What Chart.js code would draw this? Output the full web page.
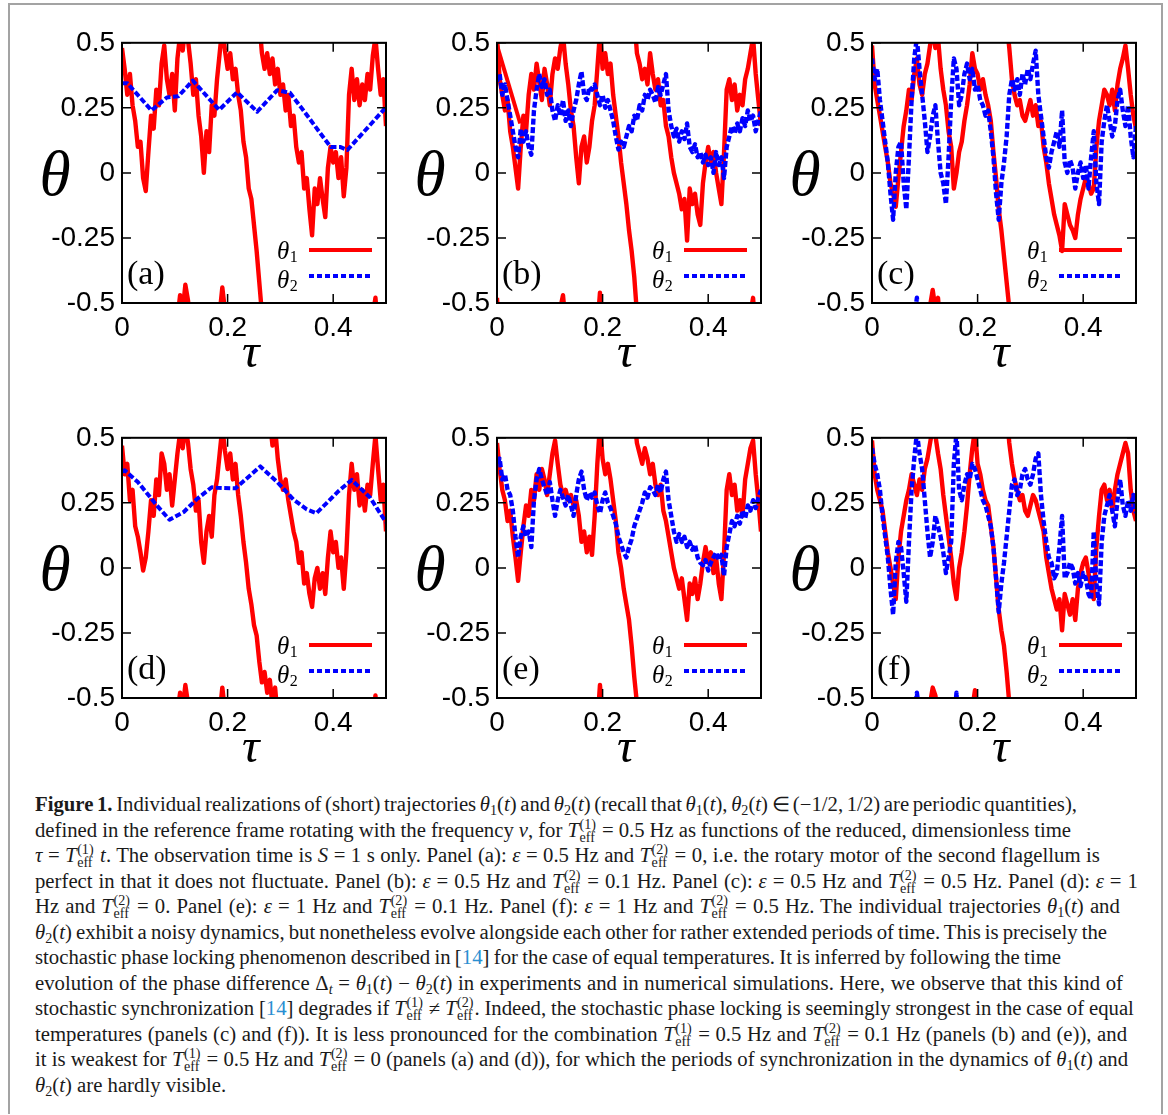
<!DOCTYPE html>
<html lang="en">
<head>
<meta charset="UTF-8">
<title>Figure 1</title>
<script src="https://cdn.jsdelivr.net/npm/chart.js"></script>
<style>
  body{margin:0;background:#fff;}
  #page{position:relative;width:1168px;height:1115px;overflow:hidden;background:#fff;}
  #frame{position:absolute;left:8px;top:3px;width:1151px;height:1109px;border:2px solid #a3a3a3;border-bottom:none;}
  canvas{position:absolute;}
  #cap{position:absolute;left:35px;top:792px;font-family:"Liberation Serif",serif;font-size:20px;color:#1a1a1a;transform-origin:0 0;}
  #cap > div{height:25.5px;line-height:25.5px;white-space:nowrap;width:max-content;}
  #cap sub{font-size:0.68em;vertical-align:-0.28em;line-height:0;}
  .ss{display:inline-block;vertical-align:-5px;font-size:0.68em;line-height:0.95em;margin:0 1px 0 0.5px;text-align:left;}
  .ss > span{display:block;}
  .ref{color:#2a8fd1;}
</style>
</head>
<body>
<div id="page">
  <div id="frame"></div>
  <div id="cap">
    <div data-r="1077"><b>Figure 1.</b> Individual realizations of (short) trajectories <i>θ</i><sub>1</sub>(<i>t</i>) and <i>θ</i><sub>2</sub>(<i>t</i>) (recall that <i>θ</i><sub>1</sub>(<i>t</i>), <i>θ</i><sub>2</sub>(<i>t</i>) ∈ (−1/2, 1/2) are periodic quantities),</div>
    <div data-r="1071">defined in the reference frame rotating with the frequency <i>ν</i>, for <i>T</i><span class="ss"><span>(1)</span><span>eff</span></span> = 0.5 Hz as functions of the reduced, dimensionless time</div>
    <div data-r="1100"><i>τ</i> = <i>T</i><span class="ss"><span>(1)</span><span>eff</span></span> <i>t</i>. The observation time is <i>S</i> = 1 s only. Panel (a): <i>ε</i> = 0.5 Hz and <i>T</i><span class="ss"><span>(2)</span><span>eff</span></span> = 0, i.e. the rotary motor of the second flagellum is</div>
    <div data-r="1138">perfect in that it does not fluctuate. Panel (b): <i>ε</i> = 0.5 Hz and <i>T</i><span class="ss"><span>(2)</span><span>eff</span></span> = 0.1 Hz. Panel (c): <i>ε</i> = 0.5 Hz and <i>T</i><span class="ss"><span>(2)</span><span>eff</span></span> = 0.5 Hz. Panel (d): <i>ε</i> = 1</div>
    <div data-r="1120">Hz and <i>T</i><span class="ss"><span>(2)</span><span>eff</span></span> = 0. Panel (e): <i>ε</i> = 1 Hz and <i>T</i><span class="ss"><span>(2)</span><span>eff</span></span> = 0.1 Hz. Panel (f): <i>ε</i> = 1 Hz and <i>T</i><span class="ss"><span>(2)</span><span>eff</span></span> = 0.5 Hz. The individual trajectories <i>θ</i><sub>1</sub>(<i>t</i>) and</div>
    <div data-r="1107"><i>θ</i><sub>2</sub>(<i>t</i>) exhibit a noisy dynamics, but nonetheless evolve alongside each other for rather extended periods of time. This is precisely the</div>
    <div data-r="1061">stochastic phase locking phenomenon described in [<span class="ref">14</span>] for the case of equal temperatures. It is inferred by following the time</div>
    <div data-r="1123">evolution of the phase difference Δ<sub><i>t</i></sub> = <i>θ</i><sub>1</sub>(<i>t</i>) − <i>θ</i><sub>2</sub>(<i>t</i>) in experiments and in numerical simulations. Here, we observe that this kind of</div>
    <div data-r="1134">stochastic synchronization [<span class="ref">14</span>] degrades if <i>T</i><span class="ss"><span>(1)</span><span>eff</span></span> ≠ <i>T</i><span class="ss"><span>(2)</span><span>eff</span></span>. Indeed, the stochastic phase locking is seemingly strongest in the case of equal</div>
    <div data-r="1127">temperatures (panels (c) and (f)). It is less pronounced for the combination <i>T</i><span class="ss"><span>(1)</span><span>eff</span></span> = 0.5 Hz and <i>T</i><span class="ss"><span>(2)</span><span>eff</span></span> = 0.1 Hz (panels (b) and (e)), and</div>
    <div data-r="1128">it is weakest for <i>T</i><span class="ss"><span>(1)</span><span>eff</span></span> = 0.5 Hz and <i>T</i><span class="ss"><span>(2)</span><span>eff</span></span> = 0 (panels (a) and (d)), for which the periods of synchronization in the dynamics of <i>θ</i><sub>1</sub>(<i>t</i>) and</div>
    <div><i>θ</i><sub>2</sub>(<i>t</i>) are hardly visible.</div>
  </div>
</div>

<script>
// sampling times (reduced time tau)
const tau = [0,0.005,0.01,0.015,0.02,0.025,0.03,0.035,0.04,0.045,
  0.05,0.055,0.06,0.065,0.07,0.075,0.08,0.085,0.09,0.095,
  0.1,0.105,0.11,0.115,0.12,0.125,0.13,0.135,0.14,0.145,
  0.15,0.155,0.16,0.165,0.17,0.175,0.18,0.185,0.19,0.195,
  0.2,0.205,0.21,0.215,0.22,0.225,0.23,0.235,0.24,0.245,
  0.25,0.255,0.26,0.265,0.27,0.275,0.28,0.285,0.29,0.295,
  0.3,0.305,0.31,0.315,0.32,0.325,0.33,0.335,0.34,0.345,
  0.35,0.355,0.36,0.365,0.37,0.375,0.38,0.385,0.39,0.395,
  0.4,0.405,0.41,0.415,0.42,0.425,0.43,0.435,0.44,0.445,
  0.45,0.455,0.46,0.465,0.47,0.475,0.48,0.485,0.49,0.495,
  0.5];

const xTicks = [0, 0.2, 0.4];
const xTickLabels = ['0', '0.2', '0.4'];
const yTicks = [-0.5, -0.25, 0, 0.25, 0.5];
const yTickLabels = ['-0.5', '-0.25', '0', '0.25', '0.5'];

// theta_1 (red), one value per tau sample; values just past +-0.5 wrap round
const theta1_a = [0.48,0.40,0.30,0.38,0.26,0.20,0.10,0.12,-0.02,-0.07,
  0.08,0.22,0.17,0.32,0.26,0.42,0.49,0.36,0.30,0.38,
  0.24,0.44,0.53,0.47,0.57,0.51,0.42,0.30,0.36,0.22,
  0.14,0.00,0.16,0.08,0.26,0.22,0.36,0.46,0.56,0.47,
  0.40,0.46,0.36,0.40,0.30,0.24,0.12,0.06,-0.06,-0.10,
  -0.20,-0.30,-0.42,0.46,0.40,0.46,0.38,0.44,0.34,0.40,
  0.30,0.34,0.24,0.30,0.18,0.22,0.10,0.04,0.08,-0.06,
  -0.02,-0.14,-0.24,-0.06,-0.12,-0.02,-0.10,-0.17,0.02,0.10,
  0.04,0.08,-0.02,0.06,-0.09,0.02,0.30,0.40,0.28,0.36,
  0.26,0.34,0.28,0.38,0.32,0.45,0.52,0.40,0.30,0.36,
  0.18];
const theta1_b = [0.52,0.36,0.30,0.24,0.28,0.16,0.10,0.02,-0.06,0.10,
  0.22,0.16,0.30,0.38,0.32,0.42,0.35,0.28,0.40,0.34,
  0.26,0.38,0.44,0.40,0.48,0.53,0.42,0.34,0.24,0.18,
  0.06,-0.04,0.10,0.14,0.04,0.10,0.20,0.26,0.40,0.54,
  0.40,0.46,0.38,0.42,0.30,0.22,0.14,0.04,-0.04,-0.12,
  -0.22,-0.30,-0.40,0.46,0.42,0.36,0.40,0.34,0.46,0.38,
  0.32,0.36,0.26,0.28,0.18,0.14,0.06,0.00,-0.04,-0.08,
  -0.14,-0.10,-0.26,-0.06,-0.12,-0.08,-0.16,-0.20,-0.04,0.04,
  0.10,0.04,0.08,0.00,-0.06,-0.12,0.08,0.32,0.36,0.28,
  0.34,0.24,0.30,0.26,0.36,0.40,0.46,0.52,0.38,0.28,
  0.18];
const theta1_b_jumpT = [0, 0.044];
const theta1_b_jump = [0.49, 0.19];
const theta1_c = [0.49,0.34,0.28,0.22,0.16,0.10,0.04,-0.04,-0.08,-0.13,
  -0.02,0.08,0.18,0.24,0.32,0.28,0.38,0.44,0.34,0.30,
  0.38,0.42,0.49,0.55,0.48,0.52,0.40,0.32,0.26,0.16,
  0.10,-0.06,0.00,0.08,0.12,0.20,0.26,0.34,0.46,0.40,
  0.38,0.32,0.36,0.30,0.26,0.20,0.08,-0.02,-0.14,-0.22,
  -0.32,-0.42,-0.52,0.36,0.30,0.26,0.28,0.22,0.20,0.24,
  0.28,0.22,0.26,0.18,0.20,0.10,0.04,-0.04,-0.10,-0.16,
  -0.20,-0.24,-0.30,-0.12,-0.16,-0.20,-0.22,-0.25,-0.16,-0.10,
  -0.06,-0.02,-0.04,-0.08,-0.06,0.10,0.20,0.26,0.32,0.30,
  0.26,0.32,0.24,0.34,0.40,0.44,0.49,0.40,0.30,0.22,
  0.17];
const theta1_d = [0.47,0.36,0.40,0.26,0.30,0.16,0.12,0.06,-0.01,0.04,
  0.14,0.26,0.20,0.34,0.28,0.44,0.40,0.30,0.36,0.24,
  0.34,0.44,0.52,0.46,0.55,0.48,0.38,0.32,0.22,0.26,
  0.10,0.02,0.14,0.20,0.12,0.28,0.34,0.44,0.54,0.45,
  0.38,0.44,0.34,0.40,0.28,0.20,0.10,0.02,-0.08,-0.14,
  -0.22,-0.26,-0.36,-0.44,-0.40,-0.48,-0.43,-0.53,-0.46,0.42,
  0.34,0.30,0.34,0.26,0.20,0.14,0.10,0.02,0.06,-0.06,
  -0.02,-0.10,-0.15,-0.04,0.00,-0.08,-0.02,-0.10,0.04,0.14,
  0.06,0.10,0.00,0.04,-0.08,0.06,0.28,0.40,0.30,0.36,
  0.24,0.30,0.22,0.32,0.28,0.40,0.51,0.38,0.26,0.32,
  0.14];
const theta1_e = [0.48,0.38,0.30,0.26,0.18,0.22,0.12,0.04,-0.05,0.06,
  0.16,0.24,0.20,0.30,0.26,0.36,0.30,0.38,0.34,0.28,
  0.36,0.44,0.49,0.40,0.32,0.28,0.30,0.26,0.28,0.24,
  0.26,0.20,0.10,0.14,0.06,0.12,0.05,0.20,0.40,0.55,
  0.42,0.36,0.40,0.34,0.26,0.18,0.06,0.00,-0.08,-0.14,
  -0.20,-0.30,-0.42,-0.52,0.44,0.40,0.46,0.42,0.36,0.40,
  0.32,0.28,0.32,0.22,0.18,0.12,0.06,0.00,-0.04,-0.08,
  -0.04,-0.12,-0.20,-0.06,-0.10,-0.04,-0.12,-0.06,0.02,0.08,
  0.02,0.06,-0.02,0.04,-0.06,-0.12,0.06,0.30,0.36,0.28,
  0.32,0.22,0.26,0.20,0.34,0.40,0.46,0.49,0.36,0.26,
  0.14];
const theta1_f = [0.49,0.36,0.30,0.26,0.22,0.14,0.06,0.00,-0.06,-0.12,
  0.04,0.14,0.20,0.26,0.30,0.36,0.32,0.28,0.34,0.30,
  0.38,0.42,0.48,0.54,0.51,0.44,0.38,0.28,0.20,0.12,
  0.04,-0.06,-0.12,0.00,0.06,0.14,0.24,0.36,0.46,0.53,
  0.40,0.36,0.30,0.26,0.24,0.16,0.08,-0.04,-0.16,-0.24,
  -0.30,-0.40,-0.52,0.40,0.34,0.30,0.26,0.28,0.22,0.20,
  0.24,0.28,0.26,0.22,0.18,0.14,0.04,-0.02,-0.08,-0.12,
  -0.16,-0.12,-0.24,-0.10,-0.14,-0.18,-0.12,-0.20,-0.08,-0.02,
  0.02,0.04,-0.02,-0.08,-0.12,0.08,0.20,0.30,0.32,0.26,
  0.30,0.22,0.30,0.36,0.40,0.44,0.48,0.44,0.30,0.22,
  0.18];

// theta_2 (blue). Panels (a) and (d): noiseless motor, read as corner points
const theta2_aT = [0,0.01,0.056,0.085,0.107,0.134,0.184,0.218,0.256,0.294,0.318,0.34,0.382,0.395,0.413,0.427,0.5];
const theta2_a  = [0.345,0.345,0.24,0.29,0.295,0.355,0.242,0.31,0.235,0.318,0.308,0.25,0.135,0.10,0.10,0.088,0.252];
const theta2_dT = [0,0.005,0.03,0.066,0.09,0.117,0.142,0.17,0.18,0.215,0.262,0.294,0.325,0.35,0.368,0.388,0.41,0.435,0.47,0.5];
const theta2_d  = [0.37,0.375,0.33,0.24,0.185,0.215,0.265,0.31,0.308,0.306,0.39,0.33,0.262,0.225,0.21,0.25,0.295,0.338,0.27,0.175];
const theta2_b = [0.35,0.38,0.30,0.34,0.28,0.22,0.16,0.10,0.06,0.17,
  0.12,0.16,0.10,0.07,0.24,0.32,0.38,0.33,0.36,0.30,
  0.32,0.24,0.20,0.26,0.22,0.28,0.20,0.24,0.18,0.24,
  0.28,0.34,0.39,0.30,0.28,0.33,0.32,0.34,0.30,0.26,
  0.30,0.25,0.28,0.24,0.20,0.14,0.09,0.12,0.10,0.14,
  0.18,0.16,0.22,0.20,0.26,0.24,0.30,0.28,0.32,0.30,
  0.27,0.33,0.30,0.34,0.38,0.24,0.18,0.14,0.17,0.12,
  0.16,0.13,0.19,0.10,0.08,0.11,0.06,0.08,0.04,0.07,
  0.03,0.06,0.00,0.08,0.03,0.06,-0.02,0.10,0.14,0.18,
  0.15,0.19,0.16,0.21,0.18,0.24,0.20,0.22,0.16,0.20,
  0.24];
const theta2_c = [0.44,0.36,0.40,0.28,0.20,0.12,0.04,-0.08,-0.18,0.00,
  0.10,0.12,-0.04,-0.14,0.06,0.28,0.44,0.52,0.40,0.30,
  0.20,0.08,0.14,0.22,0.26,0.12,0.00,-0.04,-0.12,0.06,
  0.28,0.44,0.40,0.26,0.30,0.38,0.42,0.36,0.40,0.32,
  0.34,0.28,0.26,0.22,0.24,0.16,0.06,-0.08,-0.18,-0.04,
  0.04,0.14,0.30,0.36,0.32,0.36,0.30,0.38,0.34,0.40,
  0.36,0.42,0.47,0.30,0.22,0.14,0.06,0.02,0.08,0.12,
  0.16,0.10,0.24,0.04,0.00,0.05,0.02,-0.06,0.00,0.04,
  -0.02,0.03,-0.06,0.06,0.16,-0.04,-0.12,0.12,0.20,0.26,
  0.20,0.14,0.18,0.28,0.32,0.24,0.18,0.26,0.14,0.06,
  0.18];
const theta2_e = [0.40,0.42,0.34,0.36,0.30,0.28,0.22,0.12,0.04,0.12,
  0.16,0.12,0.14,0.08,0.26,0.34,0.38,0.34,0.31,0.28,
  0.33,0.26,0.20,0.26,0.30,0.27,0.24,0.28,0.24,0.20,
  0.28,0.34,0.37,0.30,0.26,0.29,0.27,0.29,0.24,0.21,
  0.26,0.29,0.25,0.23,0.20,0.17,0.12,0.09,0.06,0.04,
  0.08,0.11,0.16,0.19,0.22,0.25,0.29,0.27,0.31,0.30,
  0.28,0.32,0.29,0.34,0.37,0.26,0.20,0.14,0.10,0.13,
  0.10,0.12,0.08,0.10,0.07,0.09,0.04,0.02,0.01,0.03,
  -0.01,0.02,0.04,0.06,0.03,0.05,-0.03,0.08,0.13,0.18,
  0.16,0.20,0.17,0.22,0.19,0.24,0.22,0.26,0.23,0.27,
  0.30];
const theta2_f = [0.46,0.40,0.36,0.30,0.20,0.12,0.04,-0.08,-0.18,0.02,
  0.10,0.08,-0.02,-0.13,0.10,0.30,0.42,0.52,0.44,0.38,
  0.26,0.14,0.04,0.10,0.20,0.16,0.12,0.06,-0.02,0.04,
  0.10,0.40,0.52,0.30,0.26,0.32,0.36,0.34,0.40,0.38,
  0.34,0.30,0.26,0.24,0.20,0.16,0.08,-0.04,-0.17,-0.06,
  0.02,0.12,0.22,0.32,0.34,0.28,0.30,0.36,0.38,0.34,
  0.32,0.36,0.42,0.44,0.28,0.18,0.10,0.04,0.02,-0.04,
  -0.02,0.08,0.20,-0.04,-0.02,0.02,0.00,-0.06,-0.02,-0.07,
  -0.02,-0.04,-0.10,-0.12,0.14,-0.06,-0.14,0.10,0.20,0.24,
  0.28,0.22,0.16,0.26,0.34,0.24,0.20,0.26,0.22,0.28,
  0.21];

// periodic quantity: fold into (-1/2,1/2) and break the line where it wraps
function toPoints(xs, ys) {
  const out = [];
  let px = null, pw = null;
  for (let i = 0; i < xs.length; i++) {
    const x = xs[i];
    const w = ((ys[i] + 0.5) % 1 + 1) % 1 - 0.5;
    if (pw !== null && Math.abs(w - pw) > 0.5) {
      const s = w > pw ? -1 : 1;
      out.push({x: x, y: w + s});
      out.push({x: x, y: null});
      out.push({x: px, y: pw - s});
    }
    out.push({x: x, y: w});
    px = x; pw = w;
  }
  return out;
}

const panels = [
  {label: '(a)', left: 42,  top: 19,  red: [tau, theta1_a], blue: [theta2_aT, theta2_a], smooth: true},
  {label: '(b)', left: 417, top: 19,  red: [tau, theta1_b], blue: [tau, theta2_b], extra: [theta1_b_jumpT, theta1_b_jump]},
  {label: '(c)', left: 792, top: 19,  red: [tau, theta1_c], blue: [tau, theta2_c]},
  {label: '(d)', left: 42,  top: 414, red: [tau, theta1_d], blue: [theta2_dT, theta2_d], smooth: true},
  {label: '(e)', left: 417, top: 414, red: [tau, theta1_e], blue: [tau, theta2_e]},
  {label: '(f)', left: 792, top: 414, red: [tau, theta1_f], blue: [tau, theta2_f]}
];

const RED = '#ff0000', BLUE = '#0000ff';

// italic glyph drawn with its ink box centred on (cx, cy) and a given ink height
function drawGlyph(ctx, ch, cx, cy, hTarget) {
  ctx.font = 'italic 100px "Liberation Serif"';
  let m = ctx.measureText(ch);
  const h = m.actualBoundingBoxAscent + m.actualBoundingBoxDescent;
  ctx.font = 'italic ' + (100 * hTarget / h).toFixed(1) + 'px "Liberation Serif"';
  m = ctx.measureText(ch);
  ctx.textAlign = 'left';
  ctx.textBaseline = 'alphabetic';
  const x0 = cx - (m.actualBoundingBoxRight - m.actualBoundingBoxLeft) / 2;
  const y0 = cy + (m.actualBoundingBoxAscent - m.actualBoundingBoxDescent) / 2;
  ctx.fillText(ch, x0, y0);
}

const decor = {
  id: 'decor',
  afterDatasetsDraw(chart, args, opts) {
    const {ctx, chartArea: a, scales: {x, y}} = chart;
    ctx.save();
    ctx.strokeStyle = '#000';
    ctx.lineWidth = 2;
    ctx.strokeRect(a.left, a.top, a.right - a.left, a.bottom - a.top);
    ctx.lineWidth = 1.5;
    ctx.beginPath();
    yTicks.forEach(v => {
      const py = y.getPixelForValue(v);
      ctx.moveTo(a.left, py); ctx.lineTo(a.left + 9, py);
      ctx.moveTo(a.right, py); ctx.lineTo(a.right - 9, py);
    });
    xTicks.forEach(v => {
      const px = x.getPixelForValue(v);
      ctx.moveTo(px, a.bottom); ctx.lineTo(px, a.bottom - 9);
      ctx.moveTo(px, a.top); ctx.lineTo(px, a.top + 9);
    });
    ctx.stroke();

    ctx.fillStyle = '#000';
    // axis titles
    drawGlyph(ctx, 'θ', a.left - 66, (a.top + a.bottom) / 2, 45);
    drawGlyph(ctx, 'τ', (a.left + a.right) / 2 - 2, a.bottom + 53, 23);

    ctx.textAlign = 'left';
    ctx.textBaseline = 'alphabetic';
    ctx.font = '34px "Liberation Serif"';
    ctx.fillText(opts.label, a.left + 5, a.bottom - 19);

    const entry = (sub, yText, yLine, color, dash) => {
      const x0 = a.right - 109;
      ctx.font = 'italic 25px "Liberation Serif"';
      ctx.fillStyle = '#000';
      ctx.fillText('θ', x0, a.bottom - yText);
      const w = ctx.measureText('θ').width;
      ctx.font = '16px "Liberation Serif"';
      ctx.fillText(sub, x0 + w + 0.5, a.bottom - yText + 3);
      ctx.strokeStyle = color;
      ctx.lineWidth = 3.8;
      ctx.setLineDash(dash);
      ctx.beginPath();
      ctx.moveTo(a.right - 77, a.bottom - yLine);
      ctx.lineTo(a.right - 14, a.bottom - yLine);
      ctx.stroke();
      ctx.setLineDash([]);
    };
    entry('1', 44, 53, RED, []);
    entry('2', 15, 27, BLUE, [5, 3]);
    ctx.restore();
  }
};

const page = document.getElementById('page');

panels.forEach(p => {
  const cv = document.createElement('canvas');
  cv.width = 370; cv.height = 360;
  cv.style.left = p.left + 'px';
  cv.style.top = p.top + 'px';
  cv.style.width = '370px';
  cv.style.height = '360px';
  page.appendChild(cv);

  const datasets = [
    {data: toPoints(p.blue[0], p.blue[1]), borderColor: BLUE, borderWidth: p.smooth ? 4 : 4.4, borderDash: [6, 2.5]},
    {data: toPoints(p.red[0], p.red[1]), borderColor: RED, borderWidth: 4.4}
  ];
  if (p.extra) datasets.push({data: toPoints(p.extra[0], p.extra[1]), borderColor: RED, borderWidth: 4});
  datasets.forEach(d => {
    d.pointRadius = 0; d.tension = 0; d.clip = 0; d.spanGaps = false; d.borderJoinStyle = 'round';
  });

  new Chart(cv, {
    type: 'line',
    data: {datasets: datasets},
    options: {
      responsive: false,
      animation: false,
      events: [],
      layout: {padding: {top: 20, right: 26, left: 0, bottom: 0}},
      plugins: {legend: {display: false}, tooltip: {enabled: false}, decor: {label: p.label}},
      scales: {
        x: {
          type: 'linear', min: 0, max: 0.5,
          afterFit: s => { s.height = 76; },
          afterBuildTicks: s => { s.ticks = xTicks.map(v => ({value: v})); },
          grid: {display: false, drawTicks: false}, border: {display: false},
          ticks: {
            color: '#000', padding: 8, maxRotation: 0, autoSkip: false,
            font: {family: '"Liberation Sans"', size: 28},
            callback: v => xTickLabels[xTicks.indexOf(v)]
          }
        },
        y: {
          type: 'linear', min: -0.5, max: 0.5,
          afterFit: s => { s.width = 80; },
          afterBuildTicks: s => { s.ticks = yTicks.map(v => ({value: v})); },
          grid: {display: false, drawTicks: false}, border: {display: false},
          ticks: {
            color: '#000', padding: 7, autoSkip: false,
            font: {family: '"Liberation Sans"', size: 28},
            callback: v => yTickLabels[yTicks.indexOf(v)]
          }
        }
      }
    },
    plugins: [decor]
  });
});

// fit caption lines to the measured line ends of the figure
function fitCaption() {
  const cap = document.getElementById('cap');
  const lines = [...cap.children].filter(d => d.dataset.r);
  const left = cap.getBoundingClientRect().left;
  let sw = 0, st = 0;
  const ws = lines.map(d => d.getBoundingClientRect().width);
  lines.forEach((d, i) => { sw += ws[i]; st += (+d.dataset.r - left); });
  const k = st / sw;
  cap.style.transform = 'scaleX(' + k.toFixed(4) + ')';
  lines.forEach((d, i) => {
    const t = (+d.dataset.r - left) / k;
    const n = (d.textContent.match(/ /g) || []).length;
    if (n) d.style.wordSpacing = ((t - ws[i]) / n).toFixed(2) + 'px';
  });
}
if (document.fonts && document.fonts.ready) document.fonts.ready.then(fitCaption); else fitCaption();
</script>
</body>
</html>
